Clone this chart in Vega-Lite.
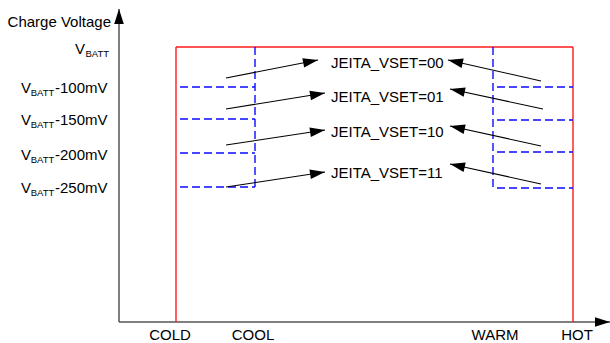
{
  "$schema": "https://vega.github.io/schema/vega-lite/v6.json",
  "width": 491,
  "height": 313,
  "padding": {"left": 119, "top": 9, "right": 0, "bottom": 21},
  "autosize": {"type": "none"},
  "background": "white",
  "config": {"view": {"stroke": null}, "font": "Liberation Sans"},
  "datasets": {
    "frame": [
      {"part": "left", "x": 57, "y": 0, "x2": 57, "y2": 275},
      {"part": "top", "x": 57, "y": 275, "x2": 454, "y2": 275},
      {"part": "right", "x": 454, "y": 275, "x2": 454, "y2": 0}
    ],
    "dashed": [
      {"part": "cool", "x": 136, "y": 275, "x2": 136, "y2": 135},
      {"part": "warm", "x": 374, "y": 275, "x2": 374, "y2": 134},
      {"part": "cool-100", "x": 61, "y": 235, "x2": 136, "y2": 235},
      {"part": "cool-150", "x": 61, "y": 203, "x2": 136, "y2": 203},
      {"part": "cool-200", "x": 61, "y": 169, "x2": 136, "y2": 169},
      {"part": "cool-250", "x": 61, "y": 135, "x2": 136, "y2": 135},
      {"part": "warm-100", "x": 378, "y": 235, "x2": 454, "y2": 235},
      {"part": "warm-150", "x": 378, "y": 202, "x2": 454, "y2": 202},
      {"part": "warm-200", "x": 378, "y": 170, "x2": 454, "y2": 170},
      {"part": "warm-250", "x": 378, "y": 134, "x2": 454, "y2": 134}
    ],
    "arrows": [
      {"id": "L00", "x": 107, "y": 244, "x2": 199, "y2": 262},
      {"id": "L01", "x": 107, "y": 213, "x2": 206, "y2": 229},
      {"id": "L10", "x": 107, "y": 177, "x2": 206, "y2": 192},
      {"id": "L11", "x": 107, "y": 135, "x2": 206, "y2": 150},
      {"id": "R00", "x": 422, "y": 241, "x2": 329, "y2": 262},
      {"id": "R01", "x": 424, "y": 213, "x2": 331, "y2": 233},
      {"id": "R10", "x": 422, "y": 176, "x2": 331, "y2": 196},
      {"id": "R11", "x": 422, "y": 138, "x2": 331, "y2": 158},
      {"id": "yaxis", "x": 0, "y": 0, "x2": 0, "y2": 313},
      {"id": "xaxis", "x": 0, "y": 0, "x2": 491, "y2": 0}
    ],
    "levels": [
      {"suffix": "-100mV", "y": 235},
      {"suffix": "-150mV", "y": 203},
      {"suffix": "-200mV", "y": 168},
      {"suffix": "-250mV", "y": 135}
    ],
    "vset": [
      {"label": "JEITA_VSET=00", "x": 212, "y": 260},
      {"label": "JEITA_VSET=01", "x": 212, "y": 226},
      {"label": "JEITA_VSET=10", "x": 212, "y": 191},
      {"label": "JEITA_VSET=11", "x": 212, "y": 150}
    ],
    "temps": [
      {"label": "COLD", "x": 51},
      {"label": "COOL", "x": 134},
      {"label": "WARM", "x": 376},
      {"label": "HOT", "x": 458}
    ]
  },
  "layer": [
    {
      "data": {"name": "arrows"},
      "transform": [{"filter": "datum.id == 'yaxis' || datum.id == 'xaxis'"}],
      "mark": {"type": "rule", "color": "#555555", "strokeWidth": 1.5, "clip": false},
      "encoding": {
        "x": {"field": "x", "type": "quantitative", "scale": {"domain": [0, 491], "nice": false, "zero": false}, "axis": null},
        "y": {"field": "y", "type": "quantitative", "scale": {"domain": [0, 313], "nice": false, "zero": false}, "axis": null},
        "x2": {"field": "x2"},
        "y2": {"field": "y2"}
      }
    },
    {
      "data": {"name": "frame"},
      "mark": {"type": "rule", "color": "#ff1a1a", "strokeWidth": 1.4, "clip": false},
      "encoding": {
        "x": {"field": "x", "type": "quantitative"},
        "y": {"field": "y", "type": "quantitative"},
        "x2": {"field": "x2"},
        "y2": {"field": "y2"}
      }
    },
    {
      "data": {"name": "dashed"},
      "mark": {"type": "rule", "color": "#0a0aff", "strokeWidth": 1.4, "strokeDash": [8, 4], "clip": false},
      "encoding": {
        "x": {"field": "x", "type": "quantitative"},
        "y": {"field": "y", "type": "quantitative"},
        "x2": {"field": "x2"},
        "y2": {"field": "y2"}
      }
    },
    {
      "data": {"name": "arrows"},
      "transform": [{"filter": "datum.id != 'yaxis' && datum.id != 'xaxis'"}],
      "mark": {"type": "rule", "color": "#000000", "strokeWidth": 1.1, "clip": false},
      "encoding": {
        "x": {"field": "x", "type": "quantitative"},
        "y": {"field": "y", "type": "quantitative"},
        "x2": {"field": "x2"},
        "y2": {"field": "y2"}
      }
    },
    {
      "data": {"name": "arrows"},
      "transform": [{"calculate": "atan2(datum.x2 - datum.x, datum.y2 - datum.y) * 180 / PI", "as": "dir"}],
      "mark": {"type": "point", "shape": "M0,0L0.32,1L-0.32,1Z", "filled": true, "color": "#000000", "opacity": 1, "size": 900, "clip": false},
      "encoding": {
        "x": {"field": "x2", "type": "quantitative"},
        "y": {"field": "y2", "type": "quantitative"},
        "angle": {"field": "dir", "type": "quantitative", "scale": null}
      }
    },
    {
      "data": {"values": [{"t": "Charge Voltage"}]},
      "mark": {"type": "text", "align": "right", "baseline": "middle", "fontSize": 15, "color": "#000000", "clip": false},
      "encoding": {"x": {"datum": -8}, "y": {"datum": 300}, "text": {"field": "t"}}
    },
    {
      "data": {"values": [{"t": "V"}]},
      "mark": {"type": "text", "align": "left", "baseline": "middle", "fontSize": 15, "dy": 2, "color": "#000000", "clip": false},
      "encoding": {"x": {"datum": -44}, "y": {"datum": 275}, "text": {"field": "t"}}
    },
    {
      "data": {"values": [{"t": "BATT"}]},
      "mark": {"type": "text", "align": "left", "baseline": "middle", "fontSize": 9.5, "dx": 10.5, "dy": 6.5, "color": "#000000", "clip": false},
      "encoding": {"x": {"datum": -44}, "y": {"datum": 275}, "text": {"field": "t"}}
    },
    {
      "data": {"name": "levels"},
      "mark": {"type": "text", "align": "left", "baseline": "middle", "fontSize": 15, "dy": 1, "color": "#000000", "clip": false},
      "encoding": {"x": {"datum": -98}, "y": {"field": "y", "type": "quantitative"}, "text": {"value": "V"}}
    },
    {
      "data": {"name": "levels"},
      "mark": {"type": "text", "align": "left", "baseline": "middle", "fontSize": 9.5, "dx": 9.7, "dy": 5.5, "color": "#000000", "clip": false},
      "encoding": {"x": {"datum": -98}, "y": {"field": "y", "type": "quantitative"}, "text": {"value": "BATT"}}
    },
    {
      "data": {"name": "levels"},
      "mark": {"type": "text", "align": "left", "baseline": "middle", "fontSize": 15, "dx": 34, "dy": 1, "color": "#000000", "clip": false},
      "encoding": {"x": {"datum": -98}, "y": {"field": "y", "type": "quantitative"}, "text": {"field": "suffix"}}
    },
    {
      "data": {"name": "vset"},
      "mark": {"type": "text", "align": "left", "baseline": "middle", "fontSize": 15, "dy": 1, "color": "#000000", "clip": false},
      "encoding": {"x": {"field": "x", "type": "quantitative"}, "y": {"field": "y", "type": "quantitative"}, "text": {"field": "label"}}
    },
    {
      "data": {"name": "temps"},
      "mark": {"type": "text", "align": "center", "baseline": "middle", "fontSize": 15, "dy": 0, "color": "#000000", "clip": false},
      "encoding": {"x": {"field": "x", "type": "quantitative"}, "y": {"datum": -13}, "text": {"field": "label"}}
    }
  ]
}
